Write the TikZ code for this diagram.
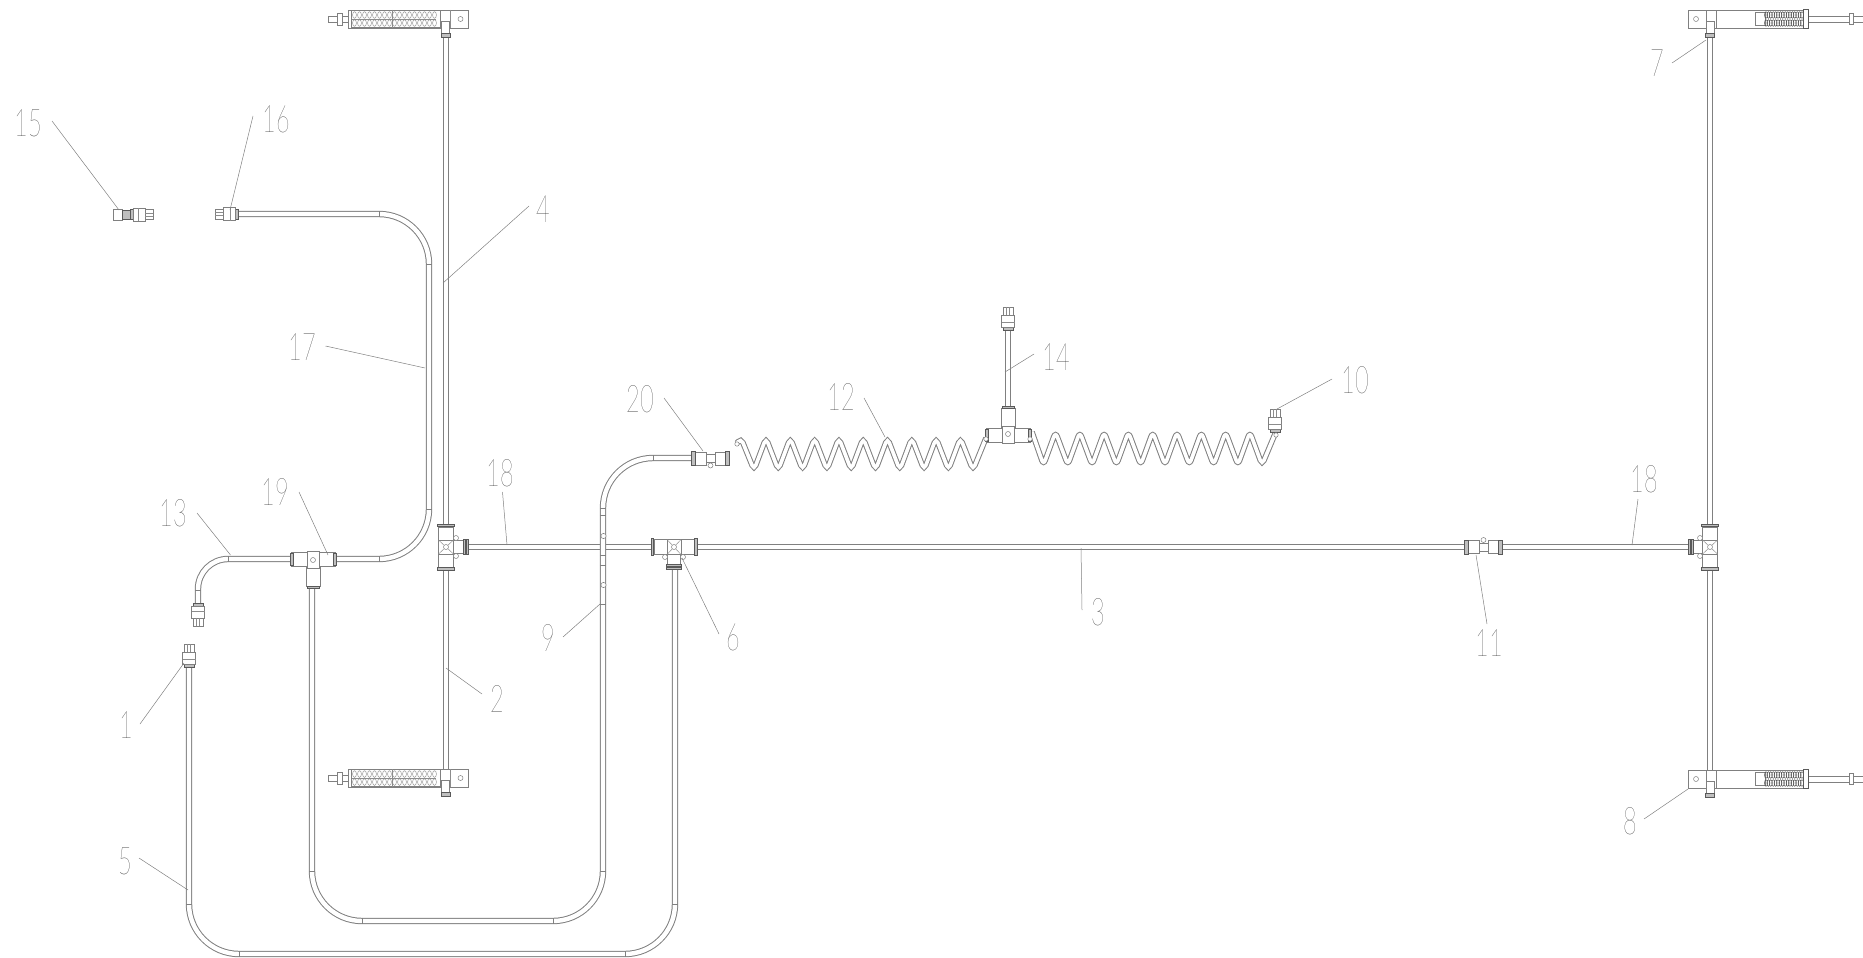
\documentclass[tikz,border=0pt]{standalone}
\usepackage{fontspec}
\newfontfamily\partfont[UprightFont=* Hairline]{Lato}
\usepackage{tikz}
\newcommand{\partno}[1]{\scalebox{.62}[1]{#1}}
\tikzstyle{pipe}=[draw=black!50, line width=1pt, double=white, double distance=4.4pt]
\tikzstyle{part}=[draw=black!50, line width=.5pt, fill=white]
\tikzstyle{dark}=[draw=black!65, line width=.6pt, fill=black!25]
\tikzstyle{coil}=[draw=black!45, line width=.45pt]
\tikzstyle{leader}=[draw=black!50, line width=.5pt]
\tikzstyle{partlabel}=[text=black!85, font=\fontsize{38}{38}\selectfont\partfont, inner sep=0pt]
\tikzset{
  tee/.pic={
    \draw[part] (-7.5,-20) rectangle (7.5,20);
    \draw[dark] (-8.5,-23) rectangle (8.5,-20.5);
    \draw[dark] (-8.5,20.5) rectangle (8.5,23);
    \draw[part] (7,-6.5) rectangle (17,6.5);
    \draw[dark] (17,-7.5) rectangle (19,7.5);
    \draw[dark] (20,-7.5) rectangle (22,7.5);
    \draw[part] (-7.5,-7) rectangle (7.5,7);
    \draw[coil] (-7.5,-7) -- (7.5,7) (-7.5,7) -- (7.5,-7);
    \draw[part] (0,0) circle (2.5);
    \draw[part] (10,-9) circle (2.5);
    \draw[part] (10,9) circle (2.5);
  },
  sidetee/.pic={
    \draw[part] (-7,6) rectangle (7,27);
    \draw[dark] (-6,27) rectangle (6,29);
    \draw[part] (-22,-7) rectangle (-6,7);
    \draw[part] (6,-7) rectangle (22,7);
    \draw[dark] (-23,-6) rectangle (-20,6);
    \draw[dark] (20,-6) rectangle (23,6);
    \draw[part] (-6,-8) rectangle (6,9);
    \draw[part] (0,1) circle (2.5);
  },
  plug/.pic={
    \draw[dark] (0,-5) rectangle (3,5);
    \draw[part] (3,-6.5) rectangle (15,6.5);
    \draw[coil] (8,-6.5) -- (8,6.5);
    \draw[part] (15,-5) rectangle (23,5);
    \draw[coil] (15,-1.7) -- (23,-1.7) (15,1.7) -- (23,1.7);
  },
  inline/.pic={
    \draw[part] (-4.5,-4) rectangle (4.5,4);
    \draw[part] (-15,-6.5) rectangle (-4.5,6.5);
    \draw[part] (4.5,-6.5) rectangle (15,6.5);
    \draw[dark] (-19,-7) rectangle (-15,7);
    \draw[dark] (15,-7) rectangle (19,7);
    \draw[part] (0,-7) circle (2.5);
  },
  valveleft/.pic={
    \draw[part] (-117.5,-3) rectangle (-97.5,3);
    \draw[part] (-108,-6) rectangle (-103,6);
    \draw[part] (-97.5,-9) rectangle (22.5,9);
    \draw[part] (-94,-8.5) rectangle (-5,8.5);
    \draw[coil] (-94,0) -- (-10,0);
    \foreach \i in {0,...,16}{
      \draw[coil] (-91+5*\i,-4) ellipse (1.9 and 3.4);
      \draw[coil] (-91+5*\i,4) ellipse (1.9 and 3.4);
    }
    \draw[coil] (-53,-9) -- (-53,9);
    \draw[part] (-5,-9) rectangle (5,9);
    \draw[coil] (5,-9) -- (5,9);
    \draw[part] (15,0) circle (2.5);
    \draw[part] (-4,2) rectangle (4,14);
    \draw[dark] (-4.5,14) rectangle (4.5,18);
  },
  valveright/.pic={
    \draw[part] (139,-3) rectangle (153,3);
    \draw[part] (98,-3) rectangle (139,3);
    \draw[part] (139,-5.5) rectangle (143,5.5);
    \draw[part] (-22,-9) rectangle (95,9);
    \draw[part] (-14,0) circle (2.5);
    \draw[part] (-4,-9) rectangle (6,9);
    \draw[part] (45,-6.5) rectangle (55,6.5);
    \foreach \i in {0,...,15}{
      \draw[coil,draw=black!75] (56+2.4*\i,-4) ellipse (1.5 and 3.3);
      \draw[coil,draw=black!75] (56+2.4*\i,4) ellipse (1.5 and 3.3);
    }
    \draw[dark,fill=white] (93,-9.5) rectangle (98,9.5);
    \draw[part] (-4,2) rectangle (4,14);
    \draw[dark] (-4.5,14) rectangle (4.5,18);
  }
}

\begin{document}
\begin{tikzpicture}[x=1pt, y=-1pt]
    \useasboundingbox (0,0) rectangle (1863,958);

    % long tubes
    \draw[pipe] (446,30) -- (446,770);
    \draw[pipe] (1710,30) -- (1710,770);
    \draw[pipe] (446,547) -- (1710,547);
    \draw[pipe] (1008,325) -- (1008,420);
    \draw[pipe, rounded corners=50pt] (225,214) -- (429,214) -- (429,559) -- (313,559);
    \draw[pipe, rounded corners=30pt] (313,559) -- (198,559) -- (198,610);
    \draw[pipe, rounded corners=50pt] (312,570) -- (312,921) -- (603,921) -- (603,458) -- (700,458);
    \draw[pipe, rounded corners=50pt] (189,655) -- (189,954) -- (675,954) -- (675,560);

    % marks where a tube bends or is clamped
    \foreach \x/\y in {429/264, 429/509, 198/590, 312/871, 603/871, 603/508,
        603/515, 603/555, 603/565, 603/604, 189/904, 675/904}
      \draw[part] (\x-3.2,\y) -- (\x+3.2,\y);
    \foreach \x/\y in {379/214, 379/559, 228/559, 362/921, 553/921, 653/458,
        239/954, 625/954}
      \draw[part] (\x,\y-3.2) -- (\x,\y+3.2);
    \foreach \y in {536,585}
      \draw[part] (603.5,\y) circle (2.6);

    % coiled tubes
    \draw[pipe, double distance=3.6pt, rounded corners=5pt] (737,443) -- (741,438)
      \foreach \k in {0,...,8}{ -- ({754+24.3*\k},470) -- ({766+24.3*\k},438) } -- (973,470) -- (986,438);
    \draw[pipe, double distance=3.6pt, rounded corners=5pt] (1032,432)
      \foreach \k in {0,...,8}{ -- ({1043.5+24.3*\k},465) -- ({1055.5+24.3*\k},432) } -- (1262,465) -- (1275,434);

    % fittings
    \pic at (446,547) {tee};
    \pic[rotate=-90] at (674,547) {tee};
    \pic[xscale=-1] at (1710,547) {tee};
    \pic at (313,559) {sidetee};
    \pic[yscale=-1] at (1008,435) {sidetee};
    \draw[part] (986,439) circle (2.2);
    \draw[part] (1030,439) circle (2.2);
    \draw[part] (737,444) circle (2.2);
    \pic[yscale=-1] at (710.5,458.5) {inline};
    \pic at (1483.5,547) {inline};
    \pic[rotate=90] at (189,667) {plug};
    \pic[rotate=-90] at (198,603) {plug};
    \pic[rotate=90] at (1008,330) {plug};
    \pic[rotate=90] at (1275,432) {plug};
    \draw[part] (1276,435) circle (2.2);
    \pic[rotate=180] at (238,214) {plug};
    \pic at (130,214.5) {plug};
    \draw[part] (113,209) rectangle (122,220);
    \draw[dark] (122,210) rectangle (130,219);
    \pic at (445.5,19) {valveleft};
    \pic at (445.5,778) {valveleft};
    \pic at (1710,19) {valveright};
    \pic at (1710,779) {valveright};

    % part numbers and their leaders
    \foreach \n/\t/\lx/\ly/\sx/\sy/\ex/\ey in {
      a/15/28/123/52/121/119/210, b/16/276/119/253/116/230/210,
      c/4/543/209/529/206/443/283, d/17/302/347/325.5/346/425/368,
      e/13/173.5/513/197/513/230.5/555, f/19/275.6/492/299/492/328/555,
      g/18/500/473/502.5/492/507/545, h/20/640/399/664/398/703/451,
      i/12/841/397/864/398/885/437, j/14/1056/357.6/1034/354/1005/372,
      k/10/1355.6/380/1332/379/1277/409, m/7/1657/63/1672/63/1706/40,
      o/18/1644/479/1638/499/1632/545, p/3/1098/612/1082/610/1081/548,
      q/11/1489/643/1487/624/1476/555, r/6/733/637/719/634/682/558,
      s/9/548/638/563/637/600/604, u/2/497/699/482/694/446/668,
      v/1/126/725/140/724/184/663, w/5/125/861/139/858/188/890,
      z/8/1630/821/1644/819/1688/789}{
      \node[partlabel] (part\n) at (\lx,\ly) {\partno{\t}};
      \coordinate (from\n) at (\sx,\sy);
      \coordinate (to\n) at (\ex,\ey);
      \draw[leader] (from\n) -- (to\n);
    }

\end{tikzpicture}
\end{document}
